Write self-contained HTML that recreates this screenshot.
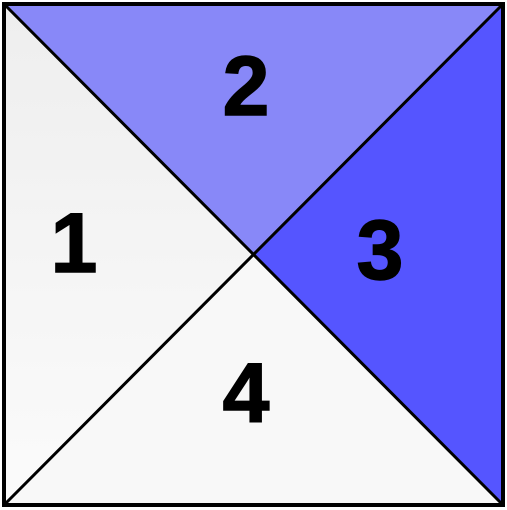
<!DOCTYPE html>
<html><head><meta charset="utf-8"><style>
html,body{margin:0;padding:0;background:#fff;width:507px;height:510px;overflow:hidden}
text{font-family:"Liberation Sans",sans-serif;font-weight:bold;font-size:84px;fill:#000;stroke:#000;stroke-width:1.5}
</style></head><body>
<svg width="507" height="510" viewBox="0 0 507 510">
<defs>
<linearGradient id="g1" x1="0" y1="0" x2="0" y2="1"><stop offset="0" stop-color="#eeeeee"/><stop offset="1" stop-color="#fbfbfb"/></linearGradient>
</defs>
<polygon points="4,4 254,255 4,505" fill="url(#g1)"/>
<polygon points="4,505 254,255 503,505" fill="#f8f8f8"/>
<polygon points="4,4 503,4 254,255" fill="#8888f8"/>
<polygon points="503,4 503,505 254,255" fill="#5555ff"/>
<line x1="4" y1="4" x2="503" y2="505" stroke="#000" stroke-width="3"/>
<line x1="503" y1="4" x2="4" y2="505" stroke="#000" stroke-width="3"/>
<rect x="4" y="4" width="499" height="501" fill="none" stroke="#000" stroke-width="4"/>
<text x="74" y="272" text-anchor="middle">1</text>
<text x="246" y="115" text-anchor="middle">2</text>
<text x="380" y="279" text-anchor="middle">3</text>
<text x="246" y="422" text-anchor="middle">4</text>
</svg>
</body></html>
